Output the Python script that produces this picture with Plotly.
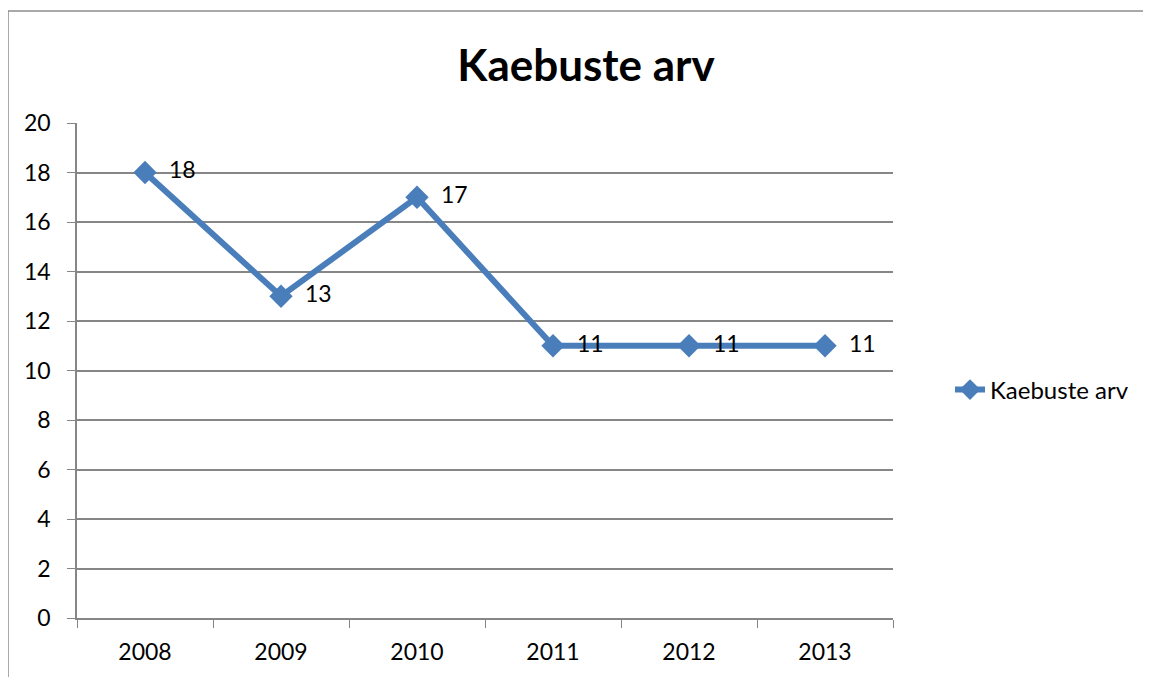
import plotly.graph_objects as go

years = ["2008", "2009", "2010", "2011", "2012", "2013"]
values = [18, 13, 17, 11, 11, 11]
series_name = "Kaebuste arv"
title_text = "Kaebuste arv"

OFF = 8  # page body margin
W, H = 1151 - OFF, 677 - OFF
L, T = 77 - OFF, 123 - OFF
pw, ph = 816, 495
R, B = W - L - pw, H - T - ph

def px_x(p):  # page x -> paper x
    return (p - OFF - L) / pw

def px_y(p):  # page y -> paper y
    return (T + ph - (p - OFF)) / ph

FONT = "Lato, Carlito, sans-serif"
fig = go.Figure()
fig.add_trace(go.Scatter(
    x=years, y=values, name=series_name,
    mode="lines+markers+text",
    line=dict(color="#4A7EBB", width=6),
    marker=dict(symbol="diamond", size=18, color="#4A7EBB"),
    text=["  " + str(v) for v in values],
    textposition="middle right",
    textfont=dict(family=FONT, size=23, color="black"),
    cliponaxis=False,
))

grey = "#868686"
fig.update_layout(
    width=W, height=H,
    margin=dict(l=L, r=R, t=T, b=B),
    paper_bgcolor="white", plot_bgcolor="white",
    title=dict(text="<b>" + title_text + "</b>", x=(586 - OFF) / W, xanchor="center",
               y=1 - (66 - OFF) / H, yanchor="middle",
               font=dict(family=FONT, size=44, color="black")),
    font=dict(family=FONT, size=23, color="black"),
    showlegend=True,
    legend=dict(x=px_x(950), xanchor="left", y=px_y(390), yanchor="middle",
                font=dict(size=24, color="black"),
                bgcolor="rgba(0,0,0,0)"),
    xaxis=dict(type="category", range=[-0.5, 5.5], showgrid=False,
               showline=True, linecolor=grey, linewidth=1.5,
               ticks="outside", tickson="boundaries", ticklen=8, tickcolor=grey,
               ticklabelstandoff=13,
               tickfont=dict(size=23, color="black"), fixedrange=True),
    yaxis=dict(range=[0, 20], dtick=2, showgrid=True, gridcolor=grey, gridwidth=1.5,
               showline=True, linecolor=grey, linewidth=1.5, zeroline=False,
               ticks="outside", ticklen=8, tickcolor=grey,
               ticklabelstandoff=12,
               tickfont=dict(size=23, color="black"), fixedrange=True),
)

# chart outer border (left and top visible, right/bottom out of frame)
bx0, by0 = px_x(8), px_y(11)
fig.add_shape(type="line", xref="paper", yref="paper",
              x0=bx0, y0=px_y(700), x1=bx0, y1=by0,
              line=dict(color="#8c8c8c", width=1.5))
fig.add_shape(type="line", xref="paper", yref="paper",
              x0=bx0, y0=by0, x1=px_x(1200), y1=by0,
              line=dict(color="#8c8c8c", width=1.5))

fig.write_html("out.html")
